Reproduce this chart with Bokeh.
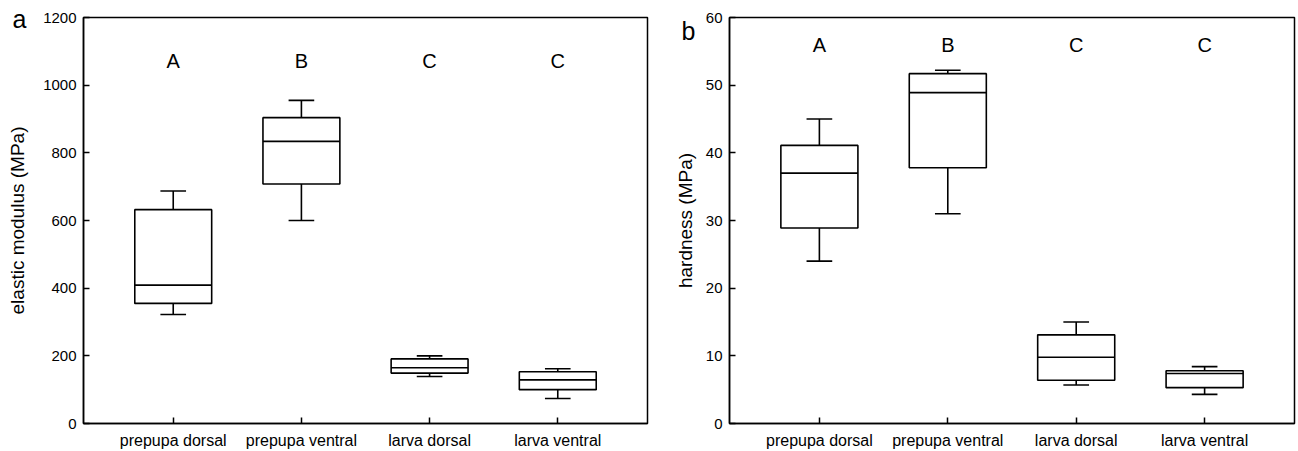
from bokeh.plotting import figure
from bokeh.layouts import row
from bokeh.models import FixedTicker, LinearAxis, Range1d
from bokeh.embed import file_html
from bokeh.resources import INLINE
from bokeh.core.properties import value

# ---------------- data ----------------
categories = ["prepupa dorsal", "prepupa ventral", "larva dorsal", "larva ventral"]
positions = [1, 2, 3, 4]
group_letters = ["A", "B", "C", "C"]

# panel a: elastic modulus (MPa)
em_whisker_low = [322, 600, 139, 74]
em_q1 = [355, 708, 149, 100]
em_median = [409, 834, 165, 129]
em_q3 = [632, 904, 191, 153]
em_whisker_high = [687, 955, 200, 162]
em_ticks = [0, 200, 400, 600, 800, 1000, 1200]

# panel b: hardness (MPa)
hd_whisker_low = [24.0, 31.0, 5.7, 4.3]
hd_q1 = [28.9, 37.8, 6.4, 5.3]
hd_median = [37.0, 48.9, 9.8, 7.4]
hd_q3 = [41.1, 51.7, 13.1, 7.8]
hd_whisker_high = [45.0, 52.2, 15.0, 8.4]
hd_ticks = [0, 10, 20, 30, 40, 50, 60]

FONT = "Liberation Sans"
BOX_W = 0.6
CAP_W = 0.2
LW = 1.6


def make_panel(low, q1, med, q3, high, ticks, ymax, ylabel, letter_y,
               panel_letter, panel_letter_at, letter_standoff, label_standoff,
               width, bl, br, bt, bb):
    p = figure(width=width, height=451, output_backend="svg", toolbar_location=None,
               x_range=Range1d(0.3, 4.7), y_range=Range1d(0, ymax),
               min_border_top=bt, min_border_bottom=bb, min_border_left=bl,
               min_border_right=br)
    p.background_fill_color = "white"
    p.border_fill_color = "white"
    p.grid.visible = False
    p.outline_line_color = "black"
    p.outline_line_width = 1.5
    p.outline_line_alpha = 1.0

    # boxes
    p.quad(left=[x - BOX_W / 2 for x in positions], right=[x + BOX_W / 2 for x in positions],
           bottom=q1, top=q3, fill_color="white", line_color="black", line_width=LW)
    # medians
    p.segment(x0=[x - BOX_W / 2 for x in positions], x1=[x + BOX_W / 2 for x in positions],
              y0=med, y1=med, line_color="black", line_width=LW)
    # whiskers
    p.segment(x0=positions, x1=positions, y0=q3, y1=high, line_color="black", line_width=LW)
    p.segment(x0=positions, x1=positions, y0=q1, y1=low, line_color="black", line_width=LW)
    # caps
    p.segment(x0=[x - CAP_W / 2 for x in positions], x1=[x + CAP_W / 2 for x in positions],
              y0=high, y1=high, line_color="black", line_width=LW)
    p.segment(x0=[x - CAP_W / 2 for x in positions], x1=[x + CAP_W / 2 for x in positions],
              y0=low, y1=low, line_color="black", line_width=LW)

    # group letters
    p.text(x=positions, y=[letter_y] * len(positions), text=group_letters,
           text_font=value(FONT), text_font_size="20px", text_align="center",
           text_baseline="middle", text_color="black")

    # axes
    for ax in (p.xaxis[0], p.yaxis[0]):
        ax.axis_line_color = "black"
        ax.axis_line_width = 1.5
        ax.major_tick_line_color = "black"
        ax.major_tick_line_width = 1.5
        ax.major_tick_in = 6
        ax.major_tick_out = 0
        ax.minor_tick_line_color = None
        ax.major_label_text_font = FONT
        ax.major_label_text_color = "black"

    p.xaxis.ticker = FixedTicker(ticks=positions)
    p.xaxis.major_label_overrides = {pos: cat for pos, cat in zip(positions, categories)}
    p.xaxis.major_label_text_font_size = "16px"
    p.xaxis.major_label_standoff = 8

    p.yaxis.ticker = FixedTicker(ticks=ticks)
    p.yaxis.major_label_text_font_size = "15px"
    p.yaxis.major_label_standoff = 7

    # outer left axis: carries the panel letter (as its single tick label) and the axis title
    outer = LinearAxis(ticker=FixedTicker(ticks=[panel_letter_at]),
                       major_label_overrides={panel_letter_at: panel_letter},
                       axis_line_color=None, major_tick_line_color=None,
                       minor_tick_line_color=None, major_tick_in=0, major_tick_out=0,
                       major_label_standoff=letter_standoff,
                       major_label_text_font=FONT, major_label_text_font_size="25px",
                       major_label_text_color="black",
                       axis_label=ylabel, axis_label_text_font=FONT,
                       axis_label_text_font_style="normal", axis_label_text_font_size="19px",
                       axis_label_text_color="black", axis_label_standoff=label_standoff)
    p.add_layout(outer, "left")
    return p


p1 = make_panel(em_whisker_low, em_q1, em_median, em_q3, em_whisker_high, em_ticks,
                1200, "elastic modulus (MPa)", 1072, "a", 1195, 14, -18,
                653, 83, 6, 16, 27)
p2 = make_panel(hd_whisker_low, hd_q1, hd_median, hd_q3, hd_whisker_high, hd_ticks,
                60, "hardness (MPa)", 56.0, "b", 58, 7, -17,
                645, 76, 4, 17, 26)

layout = row(p1, p2)
open("out.html", "w").write(file_html(layout, INLINE))
